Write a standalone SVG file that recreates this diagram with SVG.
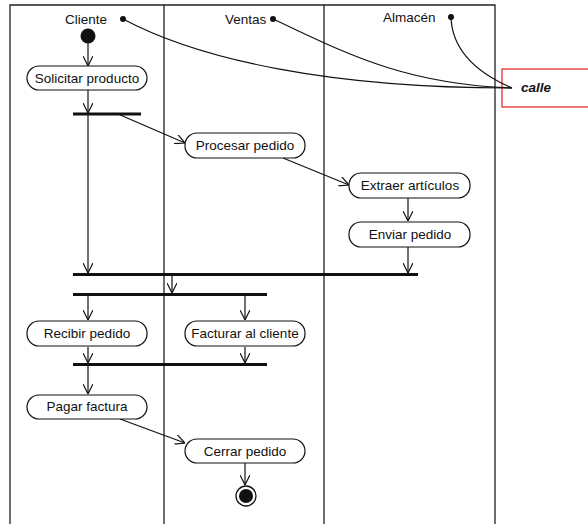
<svg xmlns="http://www.w3.org/2000/svg" width="588" height="524" viewBox="0 0 588 524">
<style>
.t{font-family:"Liberation Sans",Arial,sans-serif;font-size:13.5px;fill:#111}
.box{fill:#fff;stroke:#111;stroke-width:1.2}
.ln{fill:none;stroke:#111;stroke-width:1.2}
.bar{stroke:#111;stroke-width:3}
.lane{stroke:#222;stroke-width:1.3;fill:none}
</style>
<defs>
<marker id="ah" viewBox="0 0 10 10" refX="10" refY="5" markerWidth="10" markerHeight="10" markerUnits="userSpaceOnUse" orient="auto">
<path d="M0,0 L10,5 L0,10" fill="none" stroke="#111" stroke-width="1.2"/>
</marker>
</defs>
<rect width="588" height="524" fill="#fff"/>
<g id="lanes">
<path class="lane" d="M10,524 V5 H495 V524 M164,5 V524 M324,5 V524"/>
<text class="t" x="65" y="24">Cliente</text>
<text class="t" x="225" y="24">Ventas</text>
<text class="t" x="383" y="22">Almacén</text>
<circle cx="123" cy="19" r="3" fill="#111"/>
<circle cx="273" cy="19" r="3" fill="#111"/>
<circle cx="451" cy="17" r="3" fill="#111"/>
</g>
<g id="calle">
<rect x="502" y="69" width="90" height="38" fill="#fff" stroke="#e02020" stroke-width="1.2"/>
<text x="521" y="92" style="font-family:'Liberation Sans',Arial,sans-serif;font-size:13.5px;font-weight:bold;font-style:italic" fill="#111">calle</text>
</g>
<g id="connectors">
<path class="ln" d="M123,19 C200,60 330,88 512,88"/>
<path class="ln" d="M273,19 C340,50 400,84 512,88"/>
<path class="ln" d="M451,17 C452,50 475,72 512,88"/>
<path class="ln" d="M88,43 V66" marker-end="url(#ah)"/>
<path class="ln" d="M88,90 V113" marker-end="url(#ah)"/>
<path class="ln" d="M88,115 V273" marker-end="url(#ah)"/>
<path class="ln" d="M118,114 L185,143" marker-end="url(#ah)"/>
<path class="ln" d="M283,158 L349,185" marker-end="url(#ah)"/>
<path class="ln" d="M408,198 V221" marker-end="url(#ah)"/>
<path class="ln" d="M408,247 V273" marker-end="url(#ah)"/>
<path class="ln" d="M172,275 V293" marker-end="url(#ah)"/>
<path class="ln" d="M88,295 V320" marker-end="url(#ah)"/>
<path class="ln" d="M245,295 V320" marker-end="url(#ah)"/>
<path class="ln" d="M88,347 V363" marker-end="url(#ah)"/>
<path class="ln" d="M245,347 V363" marker-end="url(#ah)"/>
<path class="ln" d="M88,365 V394" marker-end="url(#ah)"/>
<path class="ln" d="M120,419 L185,443" marker-end="url(#ah)"/>
<path class="ln" d="M245,463 V485" marker-end="url(#ah)"/>
</g>
<g id="start"><circle cx="88" cy="36" r="7.5" fill="#111"/></g>
<g id="fork1"><line class="bar" x1="73" y1="114" x2="141" y2="114"/></g>
<g id="join1"><line class="bar" x1="73" y1="274.5" x2="418" y2="274.5"/></g>
<g id="fork2"><line class="bar" x1="73" y1="294.5" x2="267" y2="294.5"/></g>
<g id="join2"><line class="bar" x1="73" y1="364.5" x2="267" y2="364.5"/></g>
<g id="solicitar"><rect class="box" x="27" y="66" width="120" height="24" rx="12"/><text class="t" x="87" y="83" text-anchor="middle">Solicitar producto</text></g>
<g id="procesar"><rect class="box" x="185" y="133" width="120" height="25" rx="12"/><text class="t" x="245" y="150" text-anchor="middle">Procesar pedido</text></g>
<g id="extraer"><rect class="box" x="349" y="173" width="121" height="25" rx="12"/><text class="t" x="410" y="190" text-anchor="middle">Extraer artículos</text></g>
<g id="enviar"><rect class="box" x="349" y="222" width="121" height="25" rx="12"/><text class="t" x="410" y="239" text-anchor="middle">Enviar pedido</text></g>
<g id="recibir"><rect class="box" x="27" y="321" width="120" height="25" rx="12"/><text class="t" x="87" y="338" text-anchor="middle">Recibir pedido</text></g>
<g id="facturar"><rect class="box" x="185" y="321" width="120" height="25" rx="12"/><text class="t" x="245" y="338" text-anchor="middle">Facturar al cliente</text></g>
<g id="pagar"><rect class="box" x="27" y="395" width="120" height="24" rx="12"/><text class="t" x="87" y="411" text-anchor="middle">Pagar factura</text></g>
<g id="cerrar"><rect class="box" x="185" y="439" width="120" height="24" rx="12"/><text class="t" x="245" y="456" text-anchor="middle">Cerrar pedido</text></g>
<g id="end"><circle cx="246" cy="496" r="10" fill="#fff" stroke="#111" stroke-width="1.3"/><circle cx="246" cy="496" r="7" fill="#111"/></g>
</svg>
